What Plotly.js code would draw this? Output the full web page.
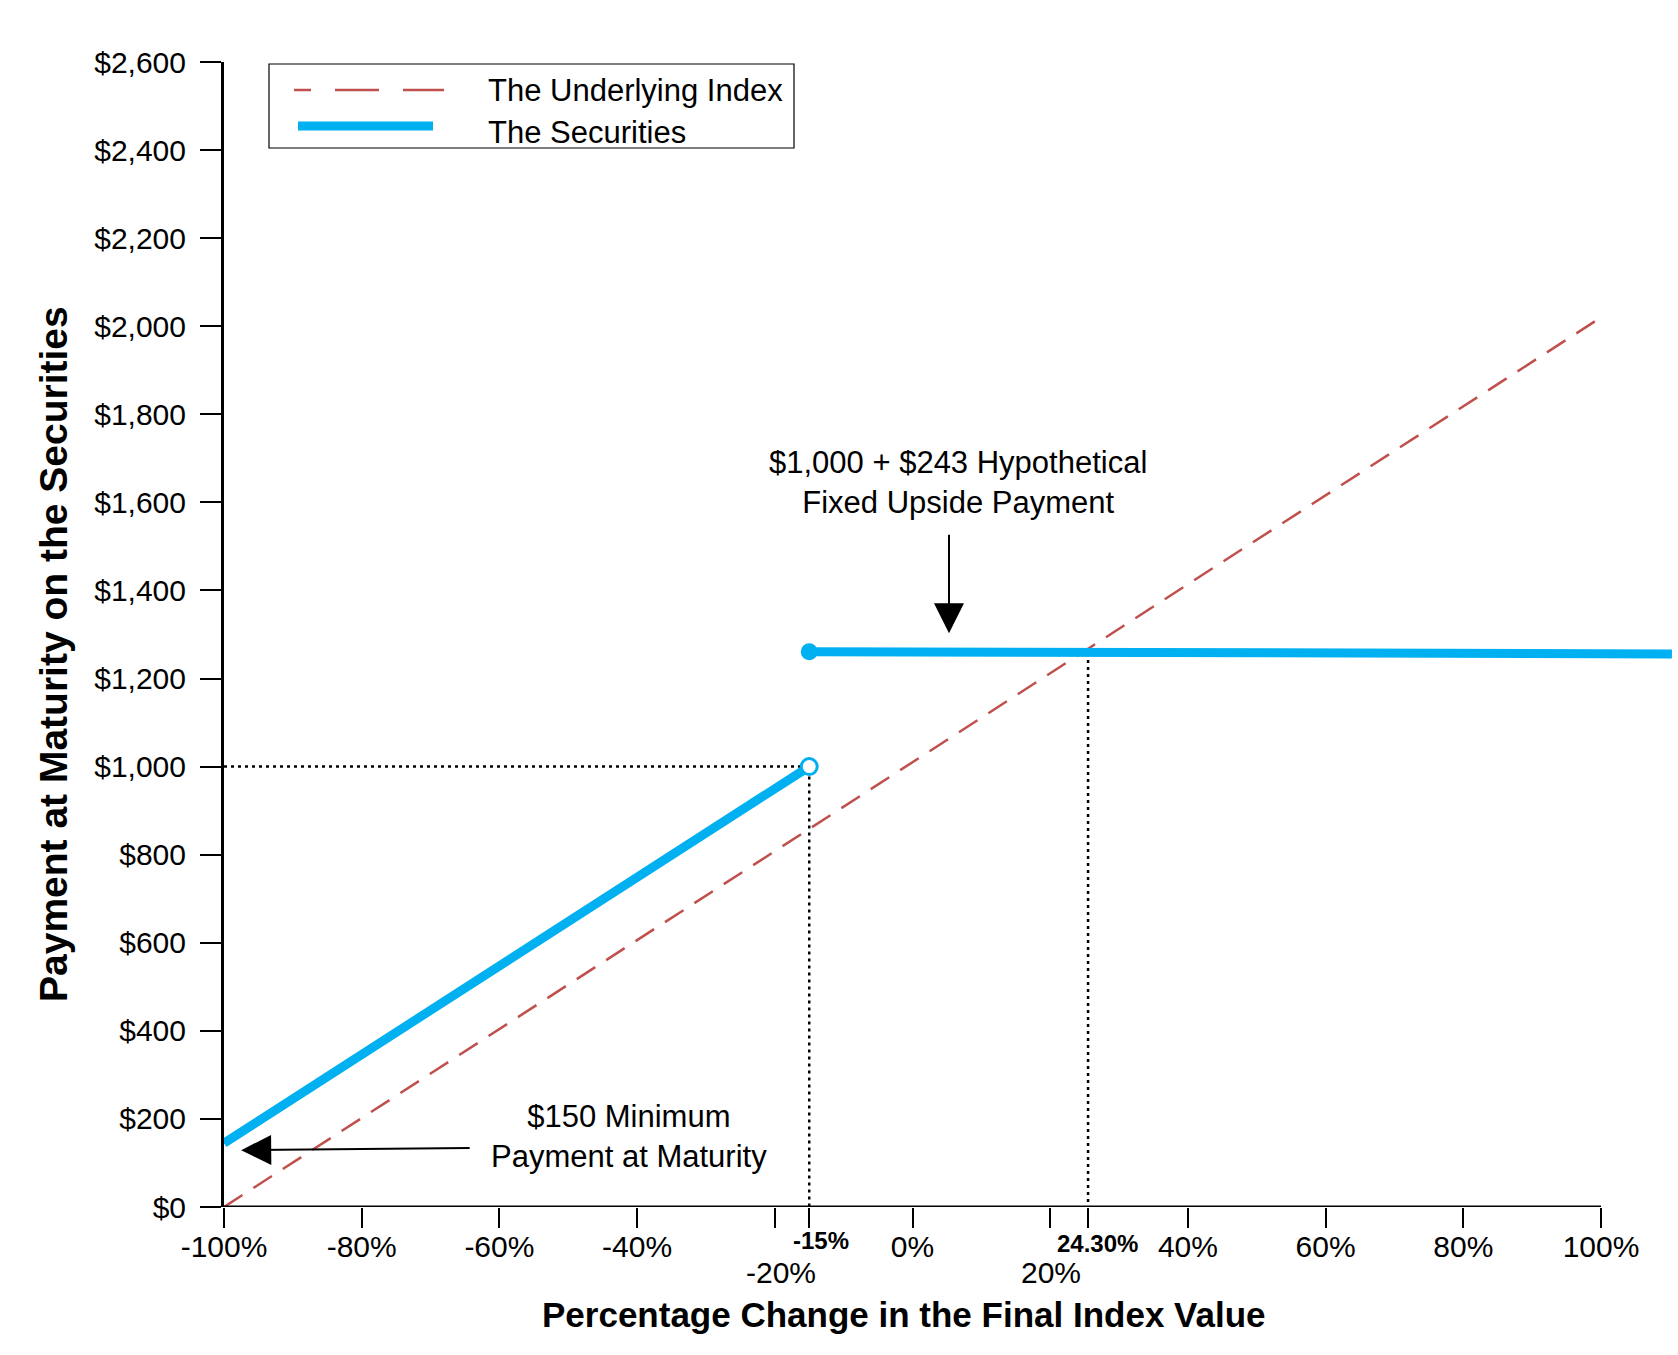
<!DOCTYPE html>
<html>
<head>
<meta charset="utf-8">
<script src="https://cdn.plot.ly/plotly-3.0.1.min.js"></script>
<style>
  html, body { margin: 0; padding: 0; background: #fff; }
  #plot { width: 1678px; height: 1355px; }
</style>
</head>
<body>
<div id="plot"></div>
<script>
// values (x in % change, y in $)
const indexX = [-100, 100];
const indexY = [0, 2020];

const lowX = [-100, -15];
const lowY = [145, 1000];
const highX = [-15, 110.3];
const highY = [1261, 1256];

const openX = [-15];
const openY = [1000];
const dotX = [-15];
const dotY = [1261];

// dotted guide lines
const guide1X = [-100, -15, -15];
const guide1Y = [1000, 1000, 0];
const guide2X = [25.5, 25.5];
const guide2Y = [1258, 0];

const xTickVals = [-100, -80, -60, -40, -20, -15, 0, 20, 25.5, 40, 60, 80, 100];
const xTickText = ['-100%', '-80%', '-60%', '-40%', '', '', '0%', '', '', '40%', '60%', '80%', '100%'];
const yTickVals = [0, 200, 400, 600, 800, 1000, 1200, 1400, 1600, 1800, 2000, 2200, 2400, 2600];
const yTickText = yTickVals.map(v => '$' + v.toLocaleString('en-US'));

const FONT = 'Arial, "Liberation Sans", sans-serif';
const RED = '#C0504D';
const BLUE = '#00B0F0';

// plot area in pixels
const L = 224, T = 62, W = 1454, B = 1207;
const H = B - T;
function px(x) { return (x - L) / W; }
function py(y) { return (B - y) / H; }

const traces = [
  {x: indexX, y: indexY, mode: 'lines', name: 'The Underlying Index',
   line: {color: RED, width: 2.5, dash: '22px,13px'}},
  {x: guide1X, y: guide1Y, mode: 'lines', line: {color: '#000', width: 2.5, dash: '3px,4px'}},
  {x: guide2X, y: guide2Y, mode: 'lines', line: {color: '#000', width: 2.5, dash: '3px,4px'}},
  {x: lowX, y: lowY, mode: 'lines', name: 'The Securities',
   line: {color: BLUE, width: 9}},
  {x: highX, y: highY, mode: 'lines', line: {color: BLUE, width: 9}},
  {x: dotX, y: dotY, mode: 'markers', marker: {color: BLUE, size: 17}},
  {x: openX, y: openY, mode: 'markers',
   marker: {color: '#fff', size: 16, line: {color: BLUE, width: 3}}}
];

const tickFont = {family: FONT, size: 30, color: '#000'};
const annFont = {family: FONT, size: 31, color: '#000'};
const smallBold = {family: FONT, size: 24, color: '#000'};

const annotations = [
  // axis titles
  {xref: 'paper', yref: 'paper', x: px(904), y: 0, yshift: -107,
   text: '<b>Percentage Change in the Final Index Value</b>', showarrow: false,
   font: {family: FONT, size: 35, color: '#000'}, xanchor: 'center', yanchor: 'middle'},
  {xref: 'paper', yref: 'paper', x: 0, xshift: 53 - L, y: py(654),
   text: '<b>Payment at Maturity on the Securities</b>', showarrow: false, textangle: -90,
   font: {family: FONT, size: 39, color: '#000'}, xanchor: 'center', yanchor: 'middle'},
  // special x tick labels
  {xref: 'x', yref: 'paper', x: -15, xshift: 12, y: 0, yshift: -33,
   text: '<b>-15%</b>', showarrow: false, font: smallBold, yanchor: 'middle'},
  {xref: 'x', yref: 'paper', x: 25.5, xshift: 9, y: 0, yshift: -36,
   text: '<b>24.30%</b>', showarrow: false, font: smallBold, yanchor: 'middle'},
  {xref: 'x', yref: 'paper', x: -20, xshift: 6, y: 0, yshift: -65,
   text: '-20%', showarrow: false, font: tickFont, yanchor: 'middle'},
  {xref: 'x', yref: 'paper', x: 20, xshift: 1, y: 0, yshift: -65,
   text: '20%', showarrow: false, font: tickFont, yanchor: 'middle'},
  // callouts
  {x: 6.6, y: 1646, text: '$1,000 + $243 Hypothetical<br>Fixed Upside Payment',
   showarrow: false, font: annFont, xanchor: 'center', yanchor: 'middle'},
  {x: 5.3, y: 1303, ax: 5.3, ay: 1530, axref: 'x', ayref: 'y', text: '',
   showarrow: true, arrowhead: 2, arrowsize: 3, arrowwidth: 2, arrowcolor: '#000'},
  {x: -41.2, y: 159, text: '$150 Minimum<br>Payment at Maturity',
   showarrow: false, font: annFont, xanchor: 'center', yanchor: 'middle'},
  {x: -97.5, y: 129, ax: -64.1, ay: 134, axref: 'x', ayref: 'y', text: '',
   showarrow: true, arrowhead: 2, arrowsize: 3, arrowwidth: 2, arrowcolor: '#000'},
  // legend text
  {xref: 'paper', yref: 'paper', x: px(486), y: py(90), text: 'The Underlying Index',
   showarrow: false, font: annFont, xanchor: 'left', yanchor: 'middle'},
  {xref: 'paper', yref: 'paper', x: px(486), y: py(132), text: 'The Securities',
   showarrow: false, font: annFont, xanchor: 'left', yanchor: 'middle'}
];

const shapes = [
  // x axis line, stops at 100%
  {type: 'line', xref: 'x', yref: 'y', x0: -100, x1: 100, y0: 0, y1: 0,
   line: {color: '#000', width: 3}, layer: 'above'},
  // hand-made legend
  {type: 'rect', xref: 'paper', yref: 'paper', x0: px(269), x1: px(794), y0: py(148), y1: py(64),
   line: {color: '#000', width: 1.2}, fillcolor: 'rgba(0,0,0,0)'},
  {type: 'line', xref: 'paper', yref: 'paper', x0: px(294), x1: px(444), y0: py(90), y1: py(90),
   line: {color: RED, width: 2.5, dash: '17px,24px,44px,24px,44px'}},
  {type: 'line', xref: 'paper', yref: 'paper', x0: px(298), x1: px(433), y0: py(126), y1: py(126),
   line: {color: BLUE, width: 9}}
];

const layout = {
  width: 1678, height: 1355,
  margin: {l: L, r: 1678 - L - W, t: T, b: 1355 - B},
  paper_bgcolor: '#fff', plot_bgcolor: '#fff',
  showlegend: false,
  font: {family: FONT, color: '#000'},
  xaxis: {
    range: [-100, -100 + W / 6.885],
    tickvals: xTickVals, ticktext: xTickText,
    ticks: 'outside', ticklen: 20, tickwidth: 2, tickcolor: '#000',
    tickfont: tickFont, ticklabelstandoff: -7,
    showgrid: false, zeroline: false, showline: false
  },
  yaxis: {
    range: [0, 2600],
    tickvals: yTickVals, ticktext: yTickText,
    ticks: 'outside', ticklen: 21, tickwidth: 2, tickcolor: '#000',
    tickfont: tickFont, ticklabelstandoff: 8,
    showgrid: false, zeroline: false, showline: true, linewidth: 3, linecolor: '#000'
  },
  shapes: shapes,
  annotations: annotations
};

Plotly.newPlot('plot', traces, layout, {displayModeBar: false, staticPlot: true});
</script>
</body>
</html>
